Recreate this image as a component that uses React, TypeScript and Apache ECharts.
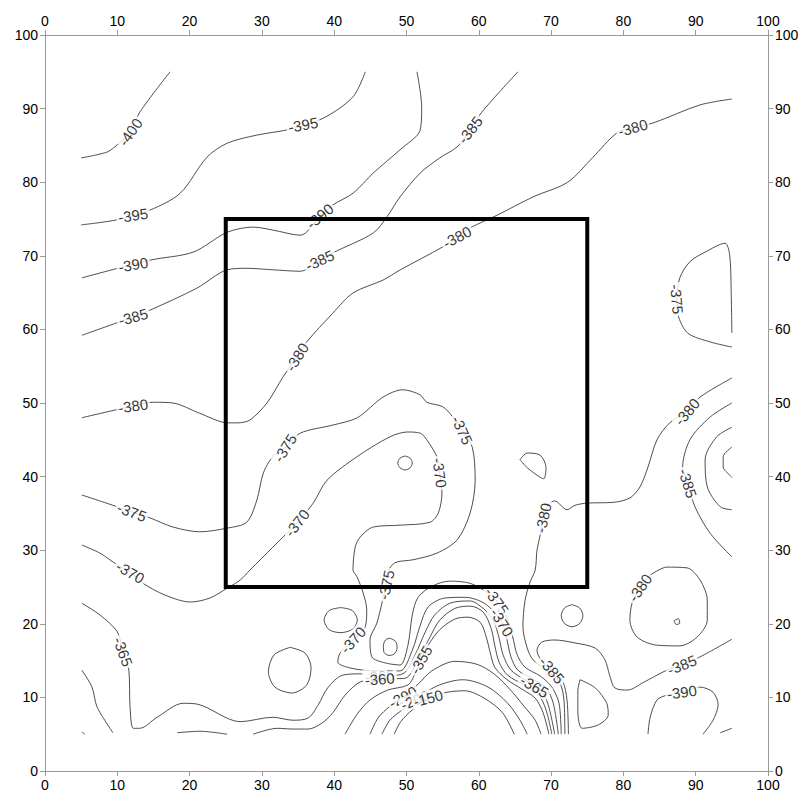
import React, { useEffect, useRef } from "react";
import * as echarts from "echarts";

// Axis range shared by all four axes
const axisMin = 0;
const axisMax = 100;
const axisStep = 10;

// Contour polylines in map units (x, y)
const c400a = [[5, 83.3], [8.6, 84.1], [10, 85.1], [11.8, 86.8], [13.1, 89.5], [17.3, 95]];
const c395a = [[5, 74.2], [10, 74.9], [14.5, 76.2], [18.7, 78.5], [22.4, 83.4], [25.2, 85.3], [29.3, 86.4], [33.9, 87.2], [38.5, 88.7], [42.6, 91.6], [44.3, 95]];
const c390a = [[51.45, 95], [52.1, 90.2], [51.9, 87.1], [49.1, 84.4], [45.4, 81.25], [42.6, 78.5], [39.8, 76.9], [38, 75.3], [35.3, 72.8], [31.5, 73.5], [28.8, 73.9], [25.2, 73.2], [20.5, 70.5], [14.5, 69.4], [5.1, 67]];
const c385a = [[65.4, 95], [60.4, 89.5], [58.8, 87.1], [57, 84.8], [54.6, 83.3], [51.9, 81.25], [49.1, 78], [47.3, 75.3], [45.4, 73.1], [39.8, 70.4], [38, 69.4], [35.3, 67.9], [31.5, 68.1], [27.9, 68.3], [25.2, 68.1], [21, 65.6], [14.5, 62.6], [12.2, 61.7], [5.1, 59.2]];
const c380a = [[95, 91.3], [90.6, 90.5], [84.1, 88.04], [81.3, 87.4], [79.1, 86.7], [75.8, 83.4], [72.3, 80], [67.5, 78], [62.5, 75.5], [58.8, 73.8], [57, 72.55], [55, 71.2], [49.1, 68.07], [46.75, 66.7], [42.6, 64.95], [39.8, 62.2], [36.2, 58.3], [34.85, 56.25], [32.9, 53.5], [30.7, 50], [28.35, 47.7], [26.6, 47.3], [25.3, 47.3], [21.4, 48.6], [17.7, 50], [14.9, 50.1], [12.2, 49.6], [5.1, 48]];
const c375a = [[5.1, 37.5], [10, 35.9], [12, 35.2], [14.5, 34.4], [17.7, 33.15], [21.4, 32.5], [25.2, 33], [27.9, 33.8], [29.3, 36.8], [30.2, 40.5], [31.5, 42.7], [33.2, 43.9], [35.3, 45.9], [39.8, 47], [43.2, 48], [46.75, 50.8], [49.5, 51.8], [51.9, 51.1], [52.8, 50.1], [55, 49.5], [56.4, 48.1], [57.7, 46.3], [59.1, 44], [59.5, 39.5], [58.8, 35.05], [57, 31.4], [54.2, 29.6], [50.9, 28.7], [48.4, 28.3], [47.4, 27], [47.2, 25.3], [46.6, 22.8], [45.9, 20.1], [44.95, 17.8], [45.2, 15.5], [47, 14.7], [49.1, 14.4], [50.2, 17.1], [50.8, 21.2], [51.6, 23.6], [53.5, 25.1], [56, 25.8], [58.8, 25.5], [61.1, 24.3], [62.5, 23.1], [63.9, 20.8], [64.7, 18.2], [65.3, 15.8], [66.4, 14.1], [68.5, 12.9], [70.1, 11.4], [71.1, 9.2], [71.4, 5]];
const c370a = [[5.1, 30.7], [7.6, 29.6], [10, 28], [11.8, 27], [13.55, 25.5], [16.6, 23.9], [20.1, 22.96], [22.8, 23.5], [25.3, 24.9], [27, 25.95], [28.35, 27.3], [31.5, 30.4], [34.85, 33.7], [37.1, 36.4], [39, 39.5], [43.15, 42.7], [47.7, 45.4], [50.1, 46.06], [51.9, 45.9], [52.8, 45], [54.2, 42.7], [54.6, 40.5], [54.9, 37.8], [54.4, 35.05], [53.25, 33.8], [49.1, 33.4], [45.4, 33.15], [43.6, 31.8], [42.9, 30.4], [42.6, 27.3], [43.15, 26.4], [44, 24.2], [44.5, 21.9], [44.3, 19.6], [42.6, 17.8], [40.8, 16], [40.5, 14.8], [42.2, 14], [45.6, 13.6], [49.1, 13.6], [50.8, 16.4], [51.9, 19.8], [53, 22.3], [55.3, 23.5], [58.1, 23.6], [60.9, 22.7], [63.2, 20.2], [63.9, 17.8], [64.45, 15.5], [65.4, 13.7], [67.5, 12.5], [69.3, 11.3], [70.3, 9.2], [71, 5]];
const c365a = [[5.1, 22.8], [7.6, 21.2], [10, 18.9], [10.8, 16.2], [11.6, 13.7], [11.76, 8.7], [12.2, 5.8], [13.1, 5.8], [15.5, 7.3], [19.1, 9.2], [21, 9.1], [27, 6.7], [31.5, 7.3], [34.3, 6.9], [36.4, 7.2], [37.8, 9], [39.1, 11.3], [41.1, 13], [43.6, 13.2], [46.3, 12.9], [49.5, 13.2], [51.2, 15.8], [52.6, 18.9], [53.9, 21.2], [56, 22.8], [58.8, 23.1], [60.6, 22.1], [62, 20.5], [62.8, 18.1], [63.35, 15.8], [64.45, 13.7], [66.67, 12.2], [68.6, 11], [69.6, 9], [70.5, 5]];
const c360a = [[28.8, 5], [32.1, 5.8], [34.3, 5.7], [36.4, 5.7], [38.3, 6.5], [39.8, 7.9], [41.5, 10.3], [43.6, 12.1], [46.3, 12.5], [49.8, 12.6], [51.6, 15.1], [53.25, 18.2], [54.6, 20.5], [56.7, 22.1], [58.8, 22.4], [60.6, 21.6], [61.7, 19.4], [62.2, 17.1], [62.8, 14.8], [64, 13], [66.3, 11.7], [68.2, 10.5], [69.3, 8.3], [70.1, 5]];
const c355a = [[41.5, 5], [43.15, 7.7], [44.95, 9.65], [47.4, 11], [50.2, 11.7], [51.3, 13.45], [52, 15.1], [53, 17.1], [54.6, 19.2], [56.7, 20.65], [58.5, 20.9], [60.2, 20.2], [61, 18.3], [61.55, 16.2], [62.2, 14.1], [63.8, 12.5], [66, 11.1], [67.8, 9.9], [68.9, 7.9], [69.7, 5]];
const c290a = [[44.95, 5], [46.06, 7.2], [47.7, 8.8], [49.5, 10.05], [51.6, 11.8], [53.5, 13.6], [56.7, 14.9], [59.75, 14.5], [62.1, 13.2], [64.3, 11.1], [66.25, 8.8], [67.8, 6.9], [68.6, 5]];
const c200a = [[46.6, 5], [47.7, 6.9], [49.4, 8.3], [51.2, 9.65], [54.2, 11.55], [57.8, 12.4], [61.3, 11.4], [64, 9.2], [65.7, 6.9], [66.7, 5]];
const c150a = [[48.3, 5], [49.2, 6.7], [50.8, 8.3], [53, 9.9], [55.6, 10.7], [58.1, 10.9], [60.9, 9.8], [63.3, 7.9], [64.9, 5]];
const c380b = [[95, 53.4], [90.6, 50.8], [88.8, 48.8], [86.4, 47.3], [84.65, 45], [83.4, 41.3], [82.3, 38.6], [80.9, 37.1], [78.6, 36.5], [75, 36.4], [73.3, 36.1], [72.2, 35.5], [70.5, 36.7], [69.6, 36.1], [68.9, 34.4], [68.5, 32.1], [68.05, 30], [67.8, 27.3], [67.1, 25.7], [66.4, 23.2], [66.1, 19.6], [66.7, 16.7], [67.5, 15.1], [69.4, 13.7], [71.2, 12], [71.8, 9.4], [71.9, 5]];
const c385b = [[95, 17.9], [90.6, 15.5], [88.1, 14.4], [86, 13.7], [82.7, 12], [80.6, 11], [78.8, 11.3], [78.1, 13], [77.45, 15.1], [76.1, 16.7], [73.3, 17.4], [70.5, 17.8], [68.7, 17.5], [68.05, 16.4], [68.7, 14.9], [70.1, 13.7], [71.6, 12.2], [72.2, 9.65], [72.4, 5]];
const c385c = [[95, 50], [92, 48.1], [89.2, 45], [88.2, 41.3], [88.9, 39.1], [89.9, 35.9], [92, 32.3], [95, 29.1]];
const c390b = [[95, 46.7], [92.9, 45.4], [91.3, 42.3], [91.6, 38.6], [93.4, 35.9], [95, 35.5]];
const c395b = [[95, 44], [93.8, 42.7], [93.8, 41.3], [94.7, 40.2], [95, 39.9]];
const c375b = [[95, 59.5], [94.9, 65.4], [94.7, 70.1], [94.05, 71.7], [91.3, 70.5], [89.2, 69.2], [87.8, 67], [87.4, 64.1], [87.55, 62], [88.9, 59.5], [92, 58.3], [95, 57.6]];
const c380c = [[83.7, 26.6], [86, 27.7], [88.8, 27.6], [90.6, 25.95], [91.6, 23.2], [91.6, 20.5], [90.2, 18.2], [87.8, 17], [84.6, 17.1], [81.9, 18.2], [80.9, 20.5], [81.2, 22.8], [82.3, 24.9], [83.7, 26.6]];
const c390c = [[83.4, 5], [83.7, 7.3], [84.65, 9.65], [86, 10.3], [88.1, 10.7], [90.6, 11.4], [92.4, 10.7], [93.1, 9], [92.4, 6.9], [91, 5]];
const c390d = [[74, 12.4], [76.1, 11.3], [77.7, 9.2], [77.9, 7.6], [76.5, 6.25], [74.3, 5.8], [73.7, 8.2], [73.7, 10.9], [74, 12.4]];

// Small closed contours
const loopA = [[49.8, 42.8], [50.5, 42.5], [50.8, 41.85], [50.5, 41.2], [49.8, 40.9], [49.1, 41.2], [48.8, 41.85], [49.1, 42.5], [49.8, 42.8]];
const loopB = [[65.7, 42.3], [66.7, 43.2], [68.5, 42.9], [69.3, 41.2], [69, 39.7], [68.5, 39.9], [66.7, 41.2], [65.7, 42.3]];
const loopC = [[72.9, 22.6], [73.95, 22.15], [74.4, 21.1], [73.95, 20.05], [72.9, 19.6], [71.85, 20.05], [71.4, 21.1], [71.85, 22.15], [72.9, 22.6]];
const loopD = [[33.9, 16.8], [36, 16], [36.8, 14], [36.2, 11.7], [34.2, 10.6], [31.8, 11.4], [30.9, 13.5], [31.7, 15.8], [33.9, 16.8]];
const loopE = [[40.9, 22.2], [42.5, 21.8], [43.2, 20.5], [42.6, 19.3], [40.9, 18.8], [39.3, 19.2], [38.6, 20.5], [39.3, 21.8], [40.9, 22.2]];
const loopF = [[47.7, 18.05], [48.5, 17.6], [48.7, 16.7], [48.3, 15.9], [47.6, 15.7], [46.9, 16.1], [46.8, 17], [47.1, 17.8], [47.7, 18.05]];
const loopG = [[87, 20.4], [87.6, 20.7], [87.8, 20.1], [87.3, 19.9], [87, 20.4]];

// Short pieces along the lower boundary
const edge1 = [[5.1, 5.3], [5.5, 5]];
const edge2 = [[5.1, 13.7], [6.5, 11.4], [7.2, 8.7], [9.4, 5.2]];
const edge3 = [[18.3, 5.2], [21.4, 5.4], [25.2, 5]];
const edge4 = [[93.4, 5.2], [95, 5.8]];

// Contour value labels: x, y, text, rotation (deg)
const contourLabels: [number, number, string, number][] = [
  [11.8, 86.8, "-400", 55],
  [12.2, 75.5, "-395", 8],
  [35.7, 87.8, "-395", 10],
  [38, 75.4, "-390", 40],
  [12.2, 68.8, "-390", 10],
  [58.8, 87.1, "-385", 52],
  [38, 69.4, "-385", 25],
  [12.2, 61.7, "-385", 15],
  [81.3, 87.4, "-380", 15],
  [57, 72.55, "-380", 28],
  [34.85, 56.25, "-380", 58],
  [12.2, 49.6, "-380", 8],
  [12, 35.2, "-375", -20],
  [33.2, 43.9, "-375", 58],
  [57.7, 46.3, "-375", -65],
  [47.2, 25.3, "-375", 78],
  [62.5, 23.1, "-375", -55],
  [11.8, 27, "-370", -30],
  [34.85, 33.7, "-370", 52],
  [54.6, 40.5, "-370", -82],
  [42.6, 17.8, "-370", 48],
  [63.2, 20.2, "-370", -58],
  [10.8, 16.2, "-365", -70],
  [46.3, 12.9, "-365", 5],
  [46.3, 12.5, "-360", 5],
  [52, 15.1, "-355", 60],
  [49.5, 10.05, "-290", 28],
  [51.2, 9.65, "-200", 22],
  [53, 9.9, "-150", 15],
  [67.7, 11.5, "-365", -30],
  [70.1, 13.7, "-385", -50],
  [87.4, 64.1, "-375", -85],
  [88.8, 48.8, "-380", 50],
  [88.9, 39.1, "-385", -72],
  [68.9, 34.4, "-380", 78],
  [82.3, 24.9, "-380", 55],
  [88.1, 14.4, "-385", 22],
  [88.1, 10.7, "-390", 8],
];

// Outline of the study area
const studyArea = [[25, 25], [75, 25], [75, 75], [25, 75], [25, 25]];

const contourLines = [
  c400a, c395a, c390a, c385a, c380a, c375a, c370a, c365a, c360a, c355a,
  c290a, c200a, c150a, c380b, c385b, c385c, c390b, c395b, c375b, c380c,
  c390c, c390d, loopA, loopB, loopC, loopD, loopE, loopF, loopG,
  edge1, edge2, edge3, edge4,
];

const fontFamily = 'Arial, "Liberation Sans", Helvetica, sans-serif';

function makeAxis(position: string) {
  return {
    type: "value",
    position,
    min: axisMin,
    max: axisMax,
    interval: axisStep,
    axisLine: { show: true, onZero: false, lineStyle: { color: "#9a9a9a", width: 1 } },
    axisTick: { show: true, length: 5, lineStyle: { color: "#9a9a9a" } },
    axisLabel: { show: true, color: "#000", fontSize: 14, fontFamily, margin: 7 },
    splitLine: { show: false },
  };
}

export default function App() {
  const ref = useRef<HTMLDivElement>(null);

  useEffect(() => {
    if (!ref.current) return;
    const chart = echarts.init(ref.current, undefined, { renderer: "svg" });

    const lineSeries = contourLines.map((pts) => ({
      type: "line",
      data: pts,
      symbol: "none",
      showSymbol: false,
      smooth: 0.3,
      silent: true,
      z: 2,
      lineStyle: { color: "#222", width: 0.8 },
    }));

    chart.setOption({
      animation: false,
      backgroundColor: "#fff",
      grid: { left: 45, right: 34, top: 35, bottom: 27, containLabel: false },
      xAxis: [makeAxis("bottom"), makeAxis("top")],
      yAxis: [makeAxis("left"), makeAxis("right")],
      series: [
        ...lineSeries,
        {
          type: "scatter",
          symbolSize: 1,
          silent: true,
          z: 3,
          itemStyle: { color: "rgba(0,0,0,0)" },
          data: contourLabels.map(([x, y, t, r]) => ({
            name: t,
            value: [x, y],
            label: { rotate: r },
          })),
          label: {
            show: true,
            position: "inside",
            formatter: "{b}",
            fontSize: 15,
            fontFamily,
            color: "#000",
            backgroundColor: "#fff",
            padding: [0, 2],
          },
        },
        {
          type: "line",
          data: studyArea,
          symbol: "none",
          silent: true,
          z: 10,
          lineStyle: { color: "#000", width: 4, join: "miter", cap: "square" },
        },
      ],
    });

    return () => chart.dispose();
  }, []);

  return (
    <div
      ref={ref}
      style={{ position: "fixed", left: 0, top: 0, width: 802, height: 798, background: "#fff" }}
    />
  );
}
